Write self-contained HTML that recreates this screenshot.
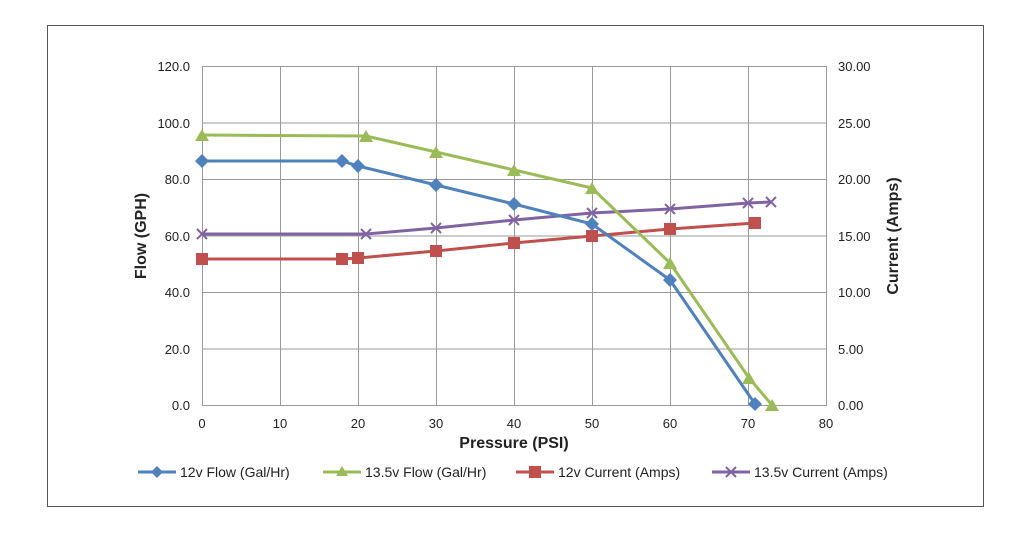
<!DOCTYPE html>
<html><head><meta charset="utf-8"><style>
body{margin:0;background:#fff;}
svg text{font-family:"Liberation Sans",Arial,sans-serif;fill:#222;}
</style></head><body>
<svg width="1024" height="537" xmlns="http://www.w3.org/2000/svg">
<rect x="47.5" y="25.5" width="936" height="481" fill="#fff" stroke="#555" stroke-width="1"/>
<g stroke="#999" stroke-width="1">
<line x1="202" y1="66.5" x2="826" y2="66.5"/>
<line x1="202" y1="123" x2="826" y2="123"/>
<line x1="202" y1="179.5" x2="826" y2="179.5"/>
<line x1="202" y1="236" x2="826" y2="236"/>
<line x1="202" y1="292.5" x2="826" y2="292.5"/>
<line x1="202" y1="349" x2="826" y2="349"/>
<line x1="202" y1="405.5" x2="826" y2="405.5"/>
<line x1="202.5" y1="66" x2="202.5" y2="406"/>
<line x1="280.5" y1="66" x2="280.5" y2="406"/>
<line x1="358.5" y1="66" x2="358.5" y2="406"/>
<line x1="436.5" y1="66" x2="436.5" y2="406"/>
<line x1="514.5" y1="66" x2="514.5" y2="406"/>
<line x1="592.5" y1="66" x2="592.5" y2="406"/>
<line x1="670.5" y1="66" x2="670.5" y2="406"/>
<line x1="748.5" y1="66" x2="748.5" y2="406"/>
<line x1="826.5" y1="66" x2="826.5" y2="406"/>
</g>
<g font-size="13" text-anchor="end">
<text x="190" y="71">120.0</text><text x="190" y="128">100.0</text><text x="190" y="184">80.0</text>
<text x="190" y="241">60.0</text><text x="190" y="297">40.0</text><text x="190" y="354">20.0</text><text x="190" y="410">0.0</text>
</g>
<g font-size="13" text-anchor="start">
<text x="838" y="71">30.00</text><text x="838" y="128">25.00</text><text x="838" y="184">20.00</text>
<text x="838" y="241">15.00</text><text x="838" y="297">10.00</text><text x="838" y="354">5.00</text><text x="838" y="410">0.00</text>
</g>
<g font-size="13" text-anchor="middle">
<text x="202" y="428">0</text><text x="280" y="428">10</text><text x="358" y="428">20</text><text x="436" y="428">30</text>
<text x="514" y="428">40</text><text x="592" y="428">50</text><text x="670" y="428">60</text><text x="748" y="428">70</text><text x="826" y="428">80</text>
</g>
<text x="514" y="448" font-size="16" font-weight="bold" text-anchor="middle">Pressure (PSI)</text>
<text transform="translate(146,236) rotate(-90)" font-size="16" font-weight="bold" text-anchor="middle">Flow (GPH)</text>
<text transform="translate(898,236) rotate(-90)" font-size="16" font-weight="bold" text-anchor="middle">Current (Amps)</text>
<!-- red -->
<polyline fill="none" stroke="#c0504d" stroke-width="3" points="202,259 342,259 358,258 436,251 514,243 592,236 670,229 755,223"/>
<g fill="#c0504d">
<rect x="196" y="253" width="12" height="12"/><rect x="336" y="253" width="12" height="12"/><rect x="352" y="252" width="12" height="12"/>
<rect x="430" y="245" width="12" height="12"/><rect x="508" y="237" width="12" height="12"/><rect x="586" y="230" width="12" height="12"/>
<rect x="664" y="223" width="12" height="12"/><rect x="749" y="217" width="12" height="12"/>
</g>
<!-- purple -->
<polyline fill="none" stroke="#8064a2" stroke-width="3" points="202,234 366,234 436,228 514,220 592,213 670,209 748,203 771,202"/>
<g stroke="#8064a2" stroke-width="2">
<path d="M197,229l10,10M207,229l-10,10"/><path d="M361,229l10,10M371,229l-10,10"/><path d="M431,223l10,10M441,223l-10,10"/>
<path d="M509,215l10,10M519,215l-10,10"/><path d="M587,208l10,10M597,208l-10,10"/><path d="M665,204l10,10M675,204l-10,10"/>
<path d="M743,198l10,10M753,198l-10,10"/><path d="M766,197l10,10M776,197l-10,10"/>
</g>
<!-- green -->
<polyline fill="none" stroke="#9bbb59" stroke-width="3" points="202,135 366,136 436,152 514,170 592,188 670,263 749,378 772,405"/>
<g fill="#9bbb59">
<path d="M202,129l7,12h-14z"/><path d="M366,130l7,12h-14z"/><path d="M436,146l7,12h-14z"/><path d="M514,164l7,12h-14z"/>
<path d="M592,182l7,12h-14z"/><path d="M670,257l7,12h-14z"/><path d="M749,372l7,12h-14z"/><path d="M772,399l7,12h-14z"/>
</g>
<!-- blue -->
<polyline fill="none" stroke="#4f81bd" stroke-width="3" points="202,161 342,161 358,166 436,185 514,204 592,224 670,280 755,404"/>
<g fill="#4f81bd">
<path d="M202,154l7,7-7,7-7-7z"/><path d="M342,154l7,7-7,7-7-7z"/><path d="M358,159l7,7-7,7-7-7z"/><path d="M436,178l7,7-7,7-7-7z"/>
<path d="M514,197l7,7-7,7-7-7z"/><path d="M592,217l7,7-7,7-7-7z"/><path d="M670,273l7,7-7,7-7-7z"/><path d="M755,397l7,7-7,7-7-7z"/>
</g>
<!-- legend -->
<g font-size="14">
<line x1="138" y1="472" x2="176" y2="472" stroke="#4f81bd" stroke-width="3"/><path d="M157,466l6,6-6,6-6-6z" fill="#4f81bd"/>
<text x="180" y="477">12v Flow (Gal/Hr)</text>
<line x1="323" y1="472" x2="361" y2="472" stroke="#9bbb59" stroke-width="3"/><path d="M342,466l6,10h-12z" fill="#9bbb59"/>
<text x="365" y="477">13.5v Flow (Gal/Hr)</text>
<line x1="516" y1="472" x2="554" y2="472" stroke="#c0504d" stroke-width="3"/><rect x="529" y="466" width="12" height="12" fill="#c0504d"/>
<text x="558" y="477">12v Current (Amps)</text>
<line x1="712" y1="472" x2="750" y2="472" stroke="#8064a2" stroke-width="3"/><path d="M726,467l10,10M736,467l-10,10" stroke="#8064a2" stroke-width="2"/>
<text x="754" y="477">13.5v Current (Amps)</text>
</g>
</svg>
</body></html>
